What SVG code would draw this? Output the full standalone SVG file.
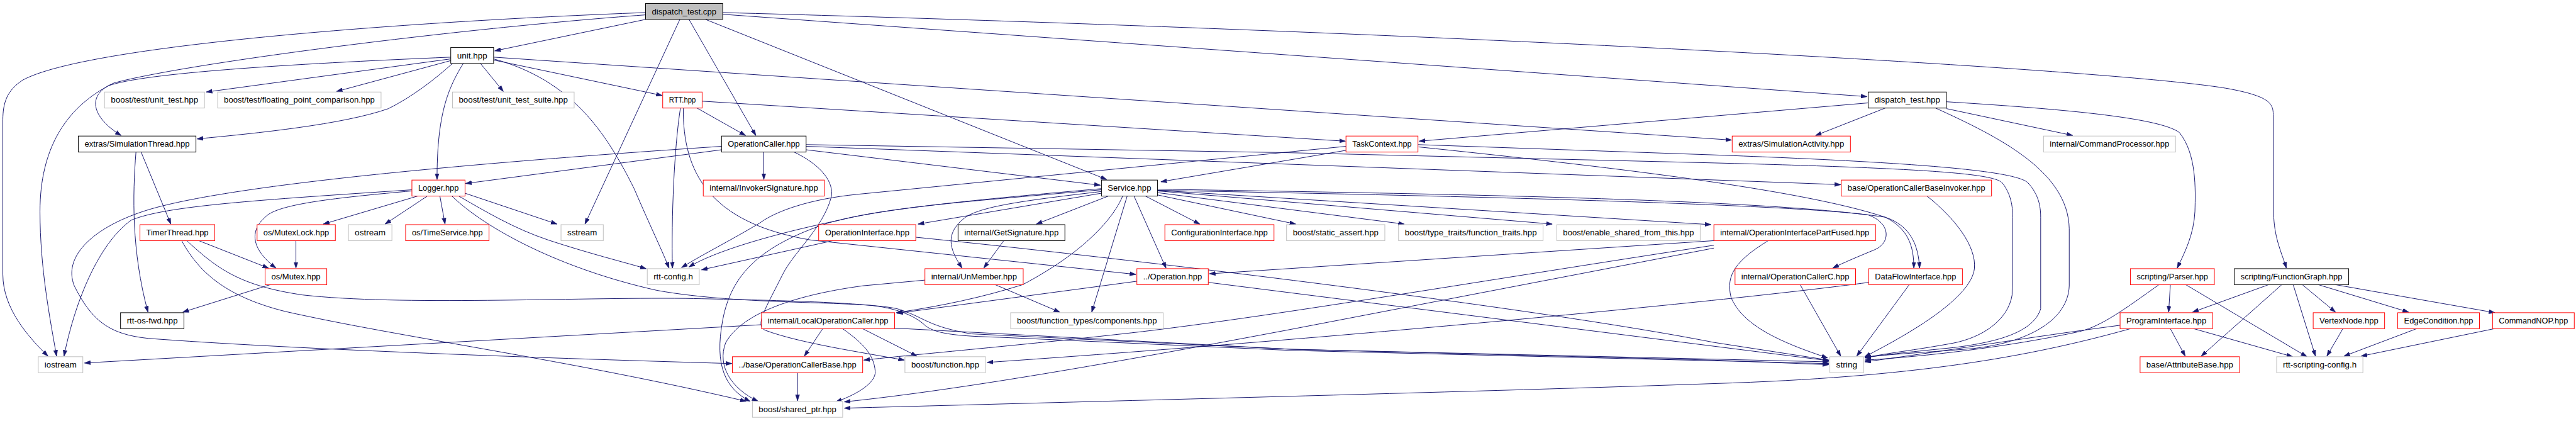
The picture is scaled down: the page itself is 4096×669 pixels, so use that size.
<svg xmlns="http://www.w3.org/2000/svg" width="4096" height="669" viewBox="0 0 4096 669">
<style>
rect{fill:#fff;stroke-width:1.1}
.k rect{stroke:#000}
.r rect{stroke:#ff0000}
.g rect{stroke:#bfbfbf}
.f rect{fill:#bfbfbf;stroke:#000}
text{font-family:"Liberation Sans",Arial,sans-serif;font-size:14px;text-anchor:middle;fill:#000}
#edges path{fill:none;stroke:#191970;stroke-width:1.1;marker-end:url(#arr)}
</style>
<defs>
<marker id="arr" markerUnits="userSpaceOnUse" viewBox="0 0 11 8" markerWidth="11" markerHeight="8" refX="10.5" refY="4" orient="auto"><path d="M0,0.5 L10.5,4 L0,7.5 z" fill="#191970" stroke="#191970" stroke-width="0.8"/></marker>
</defs>
<rect x="0" y="0" width="4096" height="669" style="fill:#fff;stroke:none"/>
<g transform="scale(0.9084)">
<g id="edges">
<path d="M1130,22 C700,38 150,80 40,140 C12,158 5,180 5,210 L5,480 C5,540 50,590 84,623"/>
<path d="M1130,26 C800,50 330,110 200,145 C150,165 160,205 212,237"/>
<path d="M1130,34 L866,89"/>
<path d="M1235,34 L1937,314"/>
<path d="M1190,34 L1024,392"/>
<path d="M1206,34 L1323,237"/>
<path d="M1265,25 L3268,169"/>
<path d="M1265,22 C2500,55 3700,120 3900,155 C3970,168 3979,180 3979,200 L3980,380 C3982,420 3995,445 4002,469"/>
<path d="M789,100 C500,112 250,128 190,150 C115,190 70,260 70,370 C70,470 88,560 99,623"/>
<path d="M789,103 L361,161"/>
<path d="M789,106 L589,160"/>
<path d="M792,111 C760,140 720,170 680,190 C600,218 450,233 345,243"/>
<path d="M841,111 L881,160"/>
<path d="M811,111 C780,160 765,210 765,314"/>
<path d="M864,105 L1159,167"/>
<path d="M864,100 L3031,245"/>
<path d="M864,103 C1000,140 1060,230 1110,330 C1140,400 1160,440 1171,469"/>
<path d="M1229,177 L2355,247"/>
<path d="M1220,189 L1305,237"/>
<path d="M1191,189 C1180,260 1175,380 1177,469"/>
<path d="M1196,189 C1195,300 1240,390 1420,420 L1988,480"/>
<path d="M3270,180 L2484,247"/>
<path d="M3300,189 L3178,237"/>
<path d="M3407,190 L3628,237"/>
<path d="M3388,189 C3500,240 3620,300 3622,400 L3622,500 C3620,560 3550,600 3450,610 C3380,616 3300,620 3264,625"/>
<path d="M3407,178 C3600,190 3780,205 3815,232 C3845,270 3843,330 3842,370 C3840,410 3825,440 3811,469"/>
<path d="M238,266 C232,340 230,440 259,546"/>
<path d="M247,266 L299,392"/>
<path d="M721,332 C450,350 290,360 230,385 C180,420 135,510 112,623"/>
<path d="M721,334 C600,345 500,355 470,375 C430,405 445,440 483,469"/>
<path d="M731,343 L566,392"/>
<path d="M748,343 L674,392"/>
<path d="M770,343 L779,392"/>
<path d="M814,338 L975,392"/>
<path d="M803,343 C850,370 900,400 960,420 C1030,443 1090,458 1131,470"/>
<path d="M791,343 C850,400 980,470 1150,508 C1300,535 1500,525 1570,540 C1620,555 1620,570 1700,584 L2260,611 L3201,633"/>
<path d="M348,421 L470,469"/>
<path d="M327,421 C380,470 420,500 530,516 C700,535 1000,520 1200,522 C1350,525 1450,528 1510,533 C1560,536 1600,550 1620,570 C1640,585 1680,588 1750,590 L2260,613 L3201,636"/>
<path d="M318,421 C350,480 400,520 500,545 C700,590 1000,630 1306,702"/>
<path d="M518,421 L518,469"/>
<path d="M473,498 L320,546"/>
<path d="M1263,262 L815,321"/>
<path d="M1263,256 C900,280 400,320 250,370 C160,400 110,450 130,500 C160,560 190,585 260,592 C500,610 900,625 1281,636"/>
<path d="M1337,266 L1337,314"/>
<path d="M1411,262 L1926,324"/>
<path d="M1411,256 L3222,323"/>
<path d="M1411,253 L2250,267 L3000,285 C3400,295 3490,305 3505,320 C3520,340 3523,360 3523,380 L3522,516 C3515,560 3470,590 3420,600 C3350,613 3300,618 3264,626"/>
<path d="M1390,266 C1440,290 1460,320 1455,345 C1440,400 1390,440 1370,480 C1340,540 1320,570 1340,578 C1400,600 1500,615 1583,630"/>
<path d="M2356,263 L2032,318"/>
<path d="M2356,256 L1500,340 C1420,348 1360,368 1330,390 C1280,420 1230,445 1193,468"/>
<path d="M2482,253 L3000,271 C3380,285 3530,300 3550,320 C3568,340 3572,360 3572,380 L3572,540 C3560,580 3500,598 3420,608 C3350,615 3300,620 3264,626"/>
<path d="M2483,257 C2800,290 3150,330 3300,380 C3340,400 3350,430 3350,469"/>
<path d="M1928,338 L1607,392"/>
<path d="M1940,343 L1814,392"/>
<path d="M1928,335 C1800,350 1720,360 1690,380 C1650,410 1665,440 1684,469"/>
<path d="M1965,343 C1950,380 1900,440 1790,498 C1720,520 1650,535 1569,547"/>
<path d="M1973,343 L1911,546"/>
<path d="M1985,343 L2041,469"/>
<path d="M2005,343 L2100,392"/>
<path d="M2026,341 L2268,392"/>
<path d="M2026,337 L2458,392"/>
<path d="M2026,334 L2717,392"/>
<path d="M2026,333 L2995,393"/>
<path d="M2026,331 C2600,340 3100,350 3300,380 C3345,395 3358,430 3360,469"/>
<path d="M2026,333 C2700,345 3150,360 3270,376 C3310,390 3310,425 3281,437 C3250,450 3230,458 3208,469"/>
<path d="M1928,330 C1700,350 1550,365 1470,385 C1350,410 1250,440 1206,467"/>
<path d="M1928,332 C1700,352 1550,362 1450,390 C1330,430 1280,480 1265,560 C1250,640 1270,680 1313,702"/>
<path d="M1619,490 L1510,500 C1400,515 1300,545 1270,600 C1255,640 1280,680 1327,702"/>
<path d="M1458,421 L1228,472"/>
<path d="M1603,415 C2000,455 2700,540 3000,599 L3201,630"/>
<path d="M1990,492 L1570,548"/>
<path d="M2115,494 L3201,631"/>
<path d="M3000,421 L2117,479"/>
<path d="M3000,429 C2600,490 2250,550 2000,580 C1800,603 1600,620 1512,630"/>
<path d="M3000,434 L2250,578 C2000,625 1700,680 1478,703"/>
<path d="M3095,421 C3040,455 3020,480 3030,520 C3050,570 3120,600 3199,626"/>
<path d="M1333,568 L148,635"/>
<path d="M1440,575 L1408,623"/>
<path d="M1475,575 C1510,600 1530,620 1532,650 C1533,670 1500,690 1463,703"/>
<path d="M1510,575 L1605,623"/>
<path d="M1566,574 L2260,611 L3000,630 L3201,638"/>
<path d="M3271,494 C3000,530 2300,595 1728,634"/>
<path d="M3342,498 L3250,623"/>
<path d="M3151,498 L3222,623"/>
<path d="M3373,343 C3420,380 3460,430 3456,470 C3450,520 3350,580 3264,624"/>
<path d="M3799,498 L3796,546"/>
<path d="M3826,498 L4038,624"/>
<path d="M3779,498 C3720,540 3680,570 3640,580 C3500,610 3350,625 3264,630"/>
<path d="M3711,569 C3550,590 3400,615 3264,633"/>
<path d="M3729,575 C3550,625 3350,660 3000,671 C2600,685 2000,700 1478,714"/>
<path d="M3799,575 L3825,623"/>
<path d="M3840,575 L4013,624"/>
<path d="M3971,498 L3838,546"/>
<path d="M3994,498 L3853,623"/>
<path d="M4014,498 L4053,623"/>
<path d="M4030,498 L4088,546"/>
<path d="M4058,498 L4216,546"/>
<path d="M4088,498 L4367,547"/>
<path d="M4101,575 L4073,623"/>
<path d="M4230,575 L4103,623"/>
<path d="M4366,575 L4133,623"/>
<path d="M1757,421 L1722,469"/>
<path d="M1742,498 L1855,546"/>
<path d="M1396,652 L1396,701"/>
</g>
<g id="n0" class="f"><rect x="1130" y="6" width="135" height="28"/><text x="1197.5" y="25" textLength="113" lengthAdjust="spacingAndGlyphs">dispatch_test.cpp</text></g>
<g id="n1" class="k"><rect x="789" y="83" width="75" height="28"/><text x="826.5" y="102" textLength="53" lengthAdjust="spacingAndGlyphs">unit.hpp</text></g>
<g id="n2" class="g"><rect x="183" y="161" width="175" height="28"/><text x="270.5" y="180" textLength="153" lengthAdjust="spacingAndGlyphs">boost/test/unit_test.hpp</text></g>
<g id="n3" class="g"><rect x="381" y="161" width="286" height="28"/><text x="524" y="180" textLength="264" lengthAdjust="spacingAndGlyphs">boost/test/floating_point_comparison.hpp</text></g>
<g id="n4" class="g"><rect x="792" y="161" width="213" height="28"/><text x="898.5" y="180" textLength="191" lengthAdjust="spacingAndGlyphs">boost/test/unit_test_suite.hpp</text></g>
<g id="n5" class="r"><rect x="1160" y="161" width="69" height="28"/><text x="1194.5" y="180" textLength="47" lengthAdjust="spacingAndGlyphs">RTT.hpp</text></g>
<g id="n6" class="k"><rect x="3270" y="161" width="137" height="28"/><text x="3338.5" y="180" textLength="115" lengthAdjust="spacingAndGlyphs">dispatch_test.hpp</text></g>
<g id="n7" class="k"><rect x="137" y="238" width="206" height="28"/><text x="240" y="257" textLength="184" lengthAdjust="spacingAndGlyphs">extras/SimulationThread.hpp</text></g>
<g id="n8" class="k"><rect x="1263" y="238" width="148" height="28"/><text x="1337" y="257" textLength="126" lengthAdjust="spacingAndGlyphs">OperationCaller.hpp</text></g>
<g id="n9" class="r"><rect x="2356" y="238" width="126" height="28"/><text x="2419" y="257" textLength="104" lengthAdjust="spacingAndGlyphs">TaskContext.hpp</text></g>
<g id="n10" class="r"><rect x="3032" y="238" width="207" height="28"/><text x="3135.5" y="257" textLength="185" lengthAdjust="spacingAndGlyphs">extras/SimulationActivity.hpp</text></g>
<g id="n11" class="g"><rect x="3577" y="238" width="231" height="28"/><text x="3692.5" y="257" textLength="209" lengthAdjust="spacingAndGlyphs">internal/CommandProcessor.hpp</text></g>
<g id="n12" class="r"><rect x="721" y="315" width="93" height="28"/><text x="767.5" y="334" textLength="71" lengthAdjust="spacingAndGlyphs">Logger.hpp</text></g>
<g id="n13" class="r"><rect x="1231" y="315" width="212" height="28"/><text x="1337" y="334" textLength="190" lengthAdjust="spacingAndGlyphs">internal/InvokerSignature.hpp</text></g>
<g id="n14" class="k"><rect x="1928" y="315" width="98" height="28"/><text x="1977" y="334" textLength="76" lengthAdjust="spacingAndGlyphs">Service.hpp</text></g>
<g id="n15" class="r"><rect x="3223" y="315" width="263" height="28"/><text x="3354.5" y="334" textLength="241" lengthAdjust="spacingAndGlyphs">base/OperationCallerBaseInvoker.hpp</text></g>
<g id="n16" class="r"><rect x="245" y="393" width="131" height="28"/><text x="310.5" y="412" textLength="109" lengthAdjust="spacingAndGlyphs">TimerThread.hpp</text></g>
<g id="n17" class="r"><rect x="450" y="393" width="137" height="28"/><text x="518.5" y="412" textLength="115" lengthAdjust="spacingAndGlyphs">os/MutexLock.hpp</text></g>
<g id="n18" class="g"><rect x="610" y="393" width="76" height="28"/><text x="648" y="412" textLength="54" lengthAdjust="spacingAndGlyphs">ostream</text></g>
<g id="n19" class="r"><rect x="710" y="393" width="146" height="28"/><text x="783" y="412" textLength="124" lengthAdjust="spacingAndGlyphs">os/TimeService.hpp</text></g>
<g id="n20" class="g"><rect x="982" y="393" width="74" height="28"/><text x="1019" y="412" textLength="52" lengthAdjust="spacingAndGlyphs">sstream</text></g>
<g id="n21" class="r"><rect x="1433" y="393" width="170" height="28"/><text x="1518" y="412" textLength="148" lengthAdjust="spacingAndGlyphs">OperationInterface.hpp</text></g>
<g id="n22" class="k"><rect x="1677" y="393" width="187" height="28"/><text x="1770.5" y="412" textLength="165" lengthAdjust="spacingAndGlyphs">internal/GetSignature.hpp</text></g>
<g id="n23" class="r"><rect x="2039" y="393" width="191" height="28"/><text x="2134.5" y="412" textLength="169" lengthAdjust="spacingAndGlyphs">ConfigurationInterface.hpp</text></g>
<g id="n24" class="g"><rect x="2252" y="393" width="172" height="28"/><text x="2338" y="412" textLength="150" lengthAdjust="spacingAndGlyphs">boost/static_assert.hpp</text></g>
<g id="n25" class="g"><rect x="2448" y="393" width="253" height="28"/><text x="2574.5" y="412" textLength="231" lengthAdjust="spacingAndGlyphs">boost/type_traits/function_traits.hpp</text></g>
<g id="n26" class="g"><rect x="2725" y="393" width="251" height="28"/><text x="2850.5" y="412" textLength="229" lengthAdjust="spacingAndGlyphs">boost/enable_shared_from_this.hpp</text></g>
<g id="n27" class="r"><rect x="3000" y="393" width="283" height="28"/><text x="3141.5" y="412" textLength="261" lengthAdjust="spacingAndGlyphs">internal/OperationInterfacePartFused.hpp</text></g>
<g id="n28" class="r"><rect x="464" y="470" width="108" height="28"/><text x="518" y="489" textLength="86" lengthAdjust="spacingAndGlyphs">os/Mutex.hpp</text></g>
<g id="n29" class="g"><rect x="1133" y="470" width="91" height="28"/><text x="1178.5" y="489" textLength="69" lengthAdjust="spacingAndGlyphs">rtt-config.h</text></g>
<g id="n30" class="r"><rect x="1619" y="470" width="172" height="28"/><text x="1705" y="489" textLength="150" lengthAdjust="spacingAndGlyphs">internal/UnMember.hpp</text></g>
<g id="n31" class="r"><rect x="1990" y="470" width="125" height="28"/><text x="2052.5" y="489" textLength="103" lengthAdjust="spacingAndGlyphs">../Operation.hpp</text></g>
<g id="n32" class="r"><rect x="3037" y="470" width="211" height="28"/><text x="3142.5" y="489" textLength="189" lengthAdjust="spacingAndGlyphs">internal/OperationCallerC.hpp</text></g>
<g id="n33" class="r"><rect x="3271" y="470" width="164" height="28"/><text x="3353" y="489" textLength="142" lengthAdjust="spacingAndGlyphs">DataFlowInterface.hpp</text></g>
<g id="n34" class="r"><rect x="3729" y="470" width="147" height="28"/><text x="3802.5" y="489" textLength="125" lengthAdjust="spacingAndGlyphs">scripting/Parser.hpp</text></g>
<g id="n35" class="k"><rect x="3911" y="470" width="200" height="28"/><text x="4011" y="489" textLength="178" lengthAdjust="spacingAndGlyphs">scripting/FunctionGraph.hpp</text></g>
<g id="n36" class="k"><rect x="211" y="547" width="111" height="28"/><text x="266.5" y="566" textLength="89" lengthAdjust="spacingAndGlyphs">rtt-os-fwd.hpp</text></g>
<g id="n37" class="r"><rect x="1333" y="547" width="233" height="28"/><text x="1449.5" y="566" textLength="211" lengthAdjust="spacingAndGlyphs">internal/LocalOperationCaller.hpp</text></g>
<g id="n38" class="g"><rect x="1769" y="547" width="267" height="28"/><text x="1902.5" y="566" textLength="245" lengthAdjust="spacingAndGlyphs">boost/function_types/components.hpp</text></g>
<g id="n39" class="r"><rect x="3711" y="547" width="162" height="28"/><text x="3792" y="566" textLength="140" lengthAdjust="spacingAndGlyphs">ProgramInterface.hpp</text></g>
<g id="n40" class="r"><rect x="4049" y="547" width="125" height="28"/><text x="4111.5" y="566" textLength="103" lengthAdjust="spacingAndGlyphs">VertexNode.hpp</text></g>
<g id="n41" class="r"><rect x="4197" y="547" width="143" height="28"/><text x="4268.5" y="566" textLength="121" lengthAdjust="spacingAndGlyphs">EdgeCondition.hpp</text></g>
<g id="n42" class="r"><rect x="4363" y="547" width="143" height="28"/><text x="4434.5" y="566" textLength="121" lengthAdjust="spacingAndGlyphs">CommandNOP.hpp</text></g>
<g id="n43" class="g"><rect x="67" y="624" width="78" height="28"/><text x="106" y="643" textLength="56" lengthAdjust="spacingAndGlyphs">iostream</text></g>
<g id="n44" class="r"><rect x="1282" y="624" width="228" height="28"/><text x="1396" y="643" textLength="206" lengthAdjust="spacingAndGlyphs">../base/OperationCallerBase.hpp</text></g>
<g id="n45" class="g"><rect x="1584" y="624" width="141" height="28"/><text x="1654.5" y="643" textLength="119" lengthAdjust="spacingAndGlyphs">boost/function.hpp</text></g>
<g id="n46" class="g"><rect x="3203" y="624" width="59" height="28"/><text x="3232.5" y="643" textLength="37" lengthAdjust="spacingAndGlyphs">string</text></g>
<g id="n47" class="r"><rect x="3746" y="624" width="174" height="28"/><text x="3833" y="643" textLength="152" lengthAdjust="spacingAndGlyphs">base/AttributeBase.hpp</text></g>
<g id="n48" class="g"><rect x="3985" y="624" width="151" height="28"/><text x="4060.5" y="643" textLength="129" lengthAdjust="spacingAndGlyphs">rtt-scripting-config.h</text></g>
<g id="n49" class="g"><rect x="1317" y="702" width="158" height="28"/><text x="1396" y="721" textLength="136" lengthAdjust="spacingAndGlyphs">boost/shared_ptr.hpp</text></g>
</g>
</svg>
